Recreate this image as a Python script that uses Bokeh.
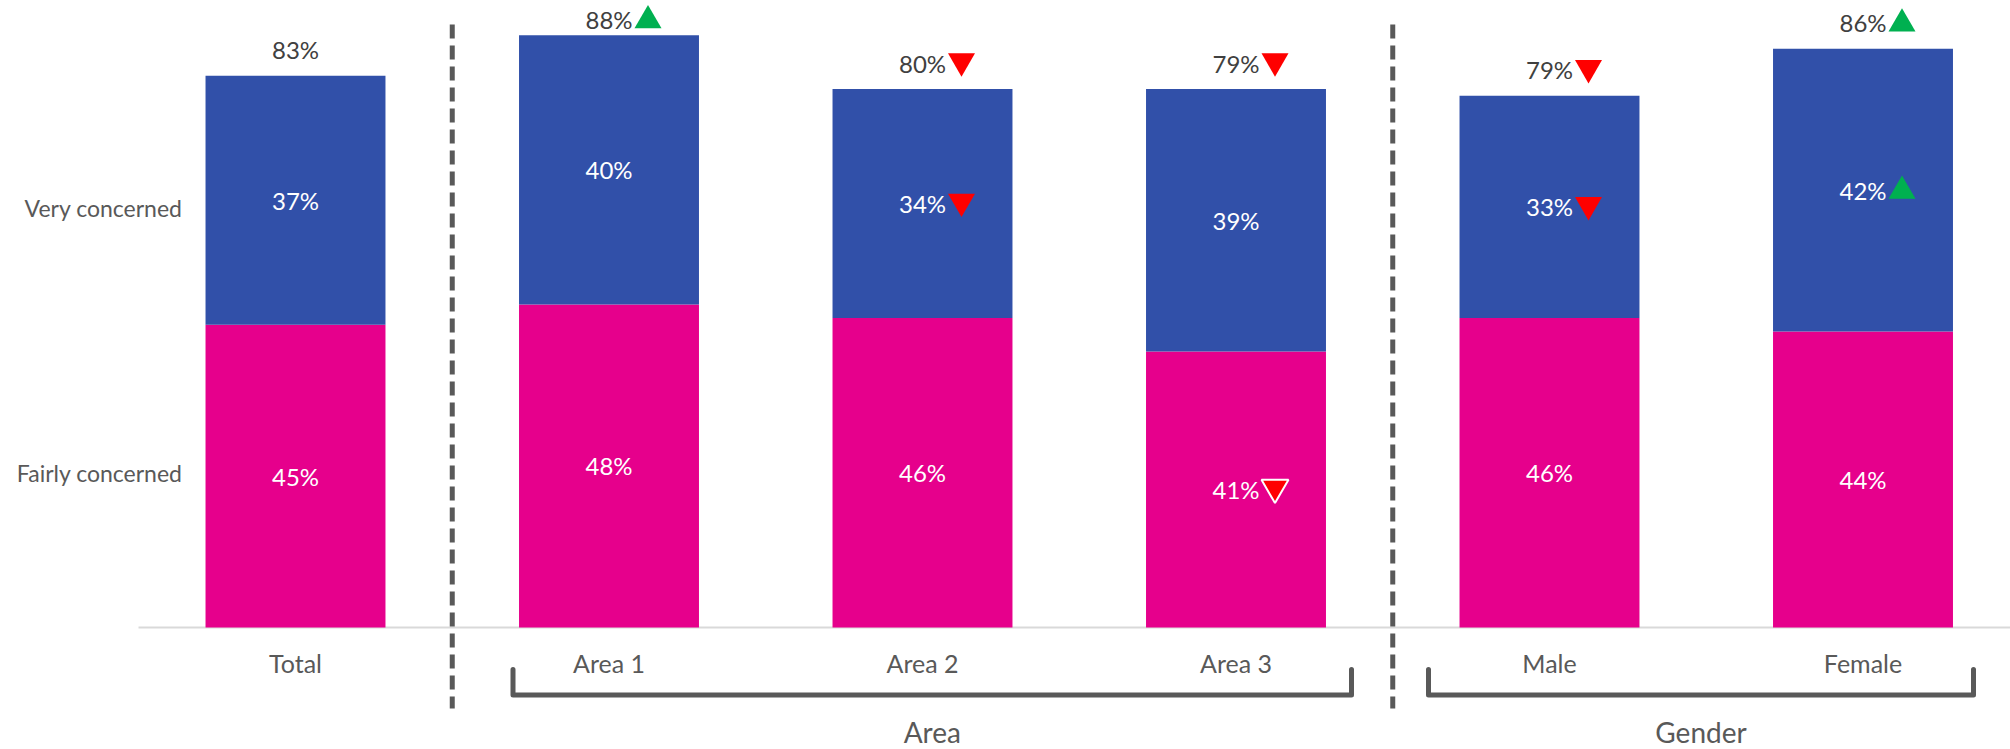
from bokeh.plotting import figure
from bokeh.models import Range1d
from bokeh.core.properties import value
from bokeh.embed import file_html
from bokeh.resources import INLINE

# ---------------- data ----------------
categories = ["Total", "Area 1", "Area 2", "Area 3", "Male", "Female"]
fairly = [45, 48, 46, 41, 46, 44]          # Fairly concerned (%)
very = [37, 40, 34, 39, 33, 42]            # Very concerned (%)
net = [83, 88, 80, 79, 79, 86]             # Net concerned (%)
net_sig = [0, 1, -1, -1, -1, 1]            # significance vs total: 1 up, -1 down
very_sig = [0, 0, -1, 0, -1, 1]
fairly_sig = [0, 0, 0, -1, 0, 0]
series_names = ["Very concerned", "Fairly concerned"]
group_names = ["Area", "Gender"]

# ---------------- style / layout ----------------
BLUE = "#3150A9"
PINK = "#E6008C"
GREEN = "#00B050"
RED = "#FF0000"
DARK = "#404040"
GREY = "#595959"
FONT = "Lato"

W, H = 2010, 749
OX, OY = 0, 0        # page offset of the figure
PX_Y = 6.73          # pixels per percentage point
BASE_Y = 627         # page y of baseline
X0 = 295             # page x of first category centre
PX_X = 313.5         # pixels per category


def vy(page_y):
    return (BASE_Y - page_y) / PX_Y


def cx(page_x):
    return (page_x - X0) / PX_X


p = figure(width=W, height=H, output_backend="svg", toolbar_location=None,
           x_range=Range1d(cx(OX), cx(OX + W)), y_range=Range1d(vy(OY + H), vy(OY)),
           x_axis_location=None, y_axis_location=None, min_border=0)
p.outline_line_color = None
p.xgrid.visible = False
p.ygrid.visible = False
p.background_fill_color = "white"

xs = list(range(len(categories)))
tops = [f + v for f, v in zip(fairly, very)]
BW = 0.574

# baseline
p.segment(x0=[cx(138)], y0=[0], x1=[cx(OX + W)], y1=[0], line_color="#D9D9D9", line_width=2)

# bars
p.vbar(x=xs, bottom=0, top=fairly, width=BW, fill_color=PINK, line_color=None)
p.vbar(x=xs, bottom=fairly, top=tops, width=BW, fill_color=BLUE, line_color=None)

# separators
for sx in [0.5, 3.5]:
    p.segment(x0=[sx], y0=[vy(24)], x1=[sx], y1=[vy(708)], line_color=GREY,
              line_width=5, line_dash="14 7")

# inner labels
fairly_y = [f / 2 for f in fairly]
very_y = [f + v / 2 for f, v in zip(fairly, very)]
p.text(x=xs, y=fairly_y, text=[f"{v}%" for v in fairly], text_align="center",
       text_baseline="middle", text_color="white", text_font=value(FONT),
       text_font_size="24px")
p.text(x=xs, y=very_y, text=[f"{v}%" for v in very], text_align="center",
       text_baseline="middle", text_color="white", text_font=value(FONT),
       text_font_size="24px")

# top (net) labels
net_y = [min(t + 26 / PX_Y, vy(19)) for t in tops]
p.text(x=xs, y=net_y, text=[f"{v}%" for v in net], text_align="center",
       text_baseline="middle", text_color=DARK, text_font=value(FONT),
       text_font_size="24px")

# significance markers
DX = 39 / PX_X


def add_markers(sig, ys, outline):
    for d, marker, col, off in [(1, "triangle", GREEN, -1), (-1, "inverted_triangle", RED, 2)]:
        mx = [i + DX for i, s in enumerate(sig) if s == d]
        my = [ys[i] + off / PX_Y for i, s in enumerate(sig) if s == d]
        if mx:
            p.scatter(x=mx, y=my, marker=marker, size=27, fill_color=col,
                      line_color="white" if outline else None,
                      line_width=2 if outline else 0)


add_markers(net_sig, net_y, False)
add_markers(very_sig, very_y, False)
add_markers(fairly_sig, fairly_y, True)

# category labels
p.text(x=xs, y=[vy(662)] * len(xs), text=categories, text_align="center",
       text_baseline="middle", text_color=GREY, text_font=value(FONT),
       text_font_size="25px")

# series labels (left)
p.text(x=[cx(182)] * 2, y=[vy(207), vy(472)], text=series_names, text_align="right",
       text_baseline="middle", text_color=GREY, text_font=value(FONT),
       text_font_size="23px")

# group brackets and labels
spans = [(cx(512.5), cx(1351)), (cx(1428), cx(1973))]
for (a, b), name in zip(spans, group_names):
    p.line(x=[a, a, b, b], y=[vy(669), vy(694.5), vy(694.5), vy(669)],
           line_color=GREY, line_width=5, line_join="round", line_cap="round")
    p.text(x=[(a + b) / 2], y=[vy(731)], text=[name], text_align="center",
           text_baseline="middle", text_color=GREY, text_font=value(FONT),
           text_font_size="28px")

open("out.html", "w").write(file_html(p, INLINE))
